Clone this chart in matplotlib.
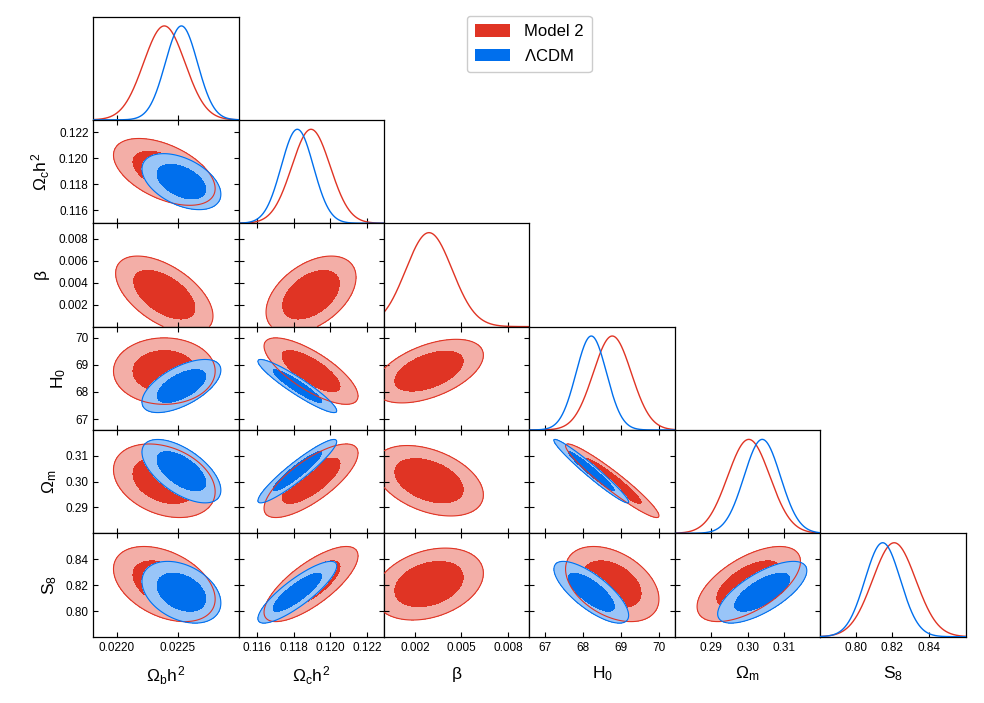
import numpy as np
import matplotlib
matplotlib.use('Agg')
import matplotlib.pyplot as plt
from matplotlib.patches import Patch
from matplotlib.colors import to_rgb

plt.rcParams['font.family'] = ['Liberation Sans', 'DejaVu Sans']
plt.rcParams['mathtext.fontset'] = 'custom'
plt.rcParams['mathtext.rm'] = 'Liberation Sans'
plt.rcParams['mathtext.it'] = 'Liberation Sans'
plt.rcParams['mathtext.bf'] = 'Liberation Sans:bold'

# parameters, labels, plot ranges and ticks
params = ['omegabh2', 'omegach2', 'beta', 'H0', 'omegam', 'S8']
labels = [r'$\Omega_{\rm b}h^2$', r'$\Omega_{\rm c}h^2$', r'$\beta$',
          r'$H_0$', r'$\Omega_{\rm m}$', r'$S_8$']
limits = [(0.02181, 0.02300), (0.11500, 0.12295), (0.0, 0.0094),
          (66.60, 70.41), (0.2800, 0.3199), (0.7805, 0.8600)]
lower_bounds = [None, None, 0.0, None, None, None]
xticks = [[0.0220, 0.0225], [0.116, 0.118, 0.120, 0.122], [0.002, 0.005, 0.008],
          [67, 68, 69, 70], [0.29, 0.30, 0.31], [0.80, 0.82, 0.84]]
xticklabels = [['0.0220', '0.0225'], ['0.116', '0.118', '0.120', '0.122'],
               ['0.002', '0.005', '0.008'], ['67', '68', '69', '70'],
               ['0.29', '0.30', '0.31'], ['0.80', '0.82', '0.84']]
yticks = [[0.0220, 0.0225], [0.116, 0.118, 0.120, 0.122], [0.002, 0.004, 0.006, 0.008],
          [67, 68, 69, 70], [0.29, 0.30, 0.31], [0.80, 0.82, 0.84]]
yticklabels = [['0.0220', '0.0225'], ['0.116', '0.118', '0.120', '0.122'],
               ['0.002', '0.004', '0.006', '0.008'], ['67', '68', '69', '70'],
               ['0.29', '0.30', '0.31'], ['0.80', '0.82', '0.84']]

# Model 2 posterior (gaussian approximation)
m2_params = ['omegabh2', 'omegach2', 'beta', 'H0', 'omegam', 'S8']
m2_mean = [0.02239, 0.11895, 0.0029, 68.77, 0.3003, 0.8210]
m2_std = [0.000170, 0.00105, 0.0015, 0.50, 0.0058, 0.0118]
m2_corr = [[1.00, -0.50, -0.55, 0.00, -0.30, -0.40],
           [-0.50, 1.00, 0.45, -0.75, 0.75, 0.75],
           [-0.55, 0.45, 1.00, 0.50, -0.40, 0.30],
           [0.00, -0.75, 0.50, 1.00, -0.95, -0.40],
           [-0.30, 0.75, -0.40, -0.95, 1.00, 0.60],
           [-0.40, 0.75, 0.30, -0.40, 0.60, 1.00]]

# LCDM posterior
lcdm_params = ['omegabh2', 'omegach2', 'H0', 'omegam', 'S8']
lcdm_mean = [0.02253, 0.11820, 68.22, 0.3040, 0.8147]
lcdm_std = [0.000132, 0.00088, 0.40, 0.0050, 0.0097]
lcdm_corr = [[1.00, -0.45, 0.60, -0.60, -0.35],
             [-0.45, 1.00, -0.93, 0.93, 0.85],
             [0.60, -0.93, 1.00, -0.97, -0.75],
             [-0.60, 0.93, -0.97, 1.00, 0.70],
             [-0.35, 0.85, -0.75, 0.70, 1.00]]

models = [
    ('Model 2', m2_params, m2_mean, m2_std, m2_corr, '#E03424'),
    (r'$\Lambda$CDM', lcdm_params, lcdm_mean, lcdm_std, lcdm_corr, '#006FED'),
]
contour_probs = [0.95, 0.68]


def pale(c, f=0.6):
    return tuple(v * (1 - f) + f for v in to_rgb(c))


def grid_for(k, m, s, n=400):
    lo = m - 5 * s
    if lower_bounds[k] is not None:
        lo = max(lo, lower_bounds[k])
    return np.linspace(lo, m + 5 * s, n)


def hpd_levels(P, probs):
    flat = np.sort(P.ravel())[::-1]
    cdf = np.cumsum(flat)
    cdf /= cdf[-1]
    return [flat[np.searchsorted(cdf, p)] for p in probs]


fig = plt.figure(figsize=(9.84, 7.03), dpi=100)
n = len(params)
gs = fig.add_gridspec(n, n, left=0.0950, right=0.9812, top=0.9765, bottom=0.0943,
                      hspace=0, wspace=0)

for i in range(n):
    for j in range(i + 1):
        ax = fig.add_subplot(gs[i, j])
        for sp in ax.spines.values():
            sp.set_linewidth(0.9)
        if i == j:
            for z, (name, plist, mean, std, corr, col) in enumerate(models):
                if params[i] not in plist:
                    continue
                a = plist.index(params[i])
                x = np.linspace(limits[i][0], limits[i][1], 500)
                if lower_bounds[i] is not None:
                    x = x[x >= lower_bounds[i]]
                p = np.exp(-0.5 * ((x - mean[a]) / std[a]) ** 2)
                ax.plot(x, p / p.max(), color=col, lw=1.0, zorder=2 + z)
            ax.set_ylim(0, 1.1)
            ax.set_yticks([])
            ax.tick_params(axis='x', direction='in', length=3.5, width=0.8,
                           labelsize=8.5, top=False)
        else:
            for z, (name, plist, mean, std, corr, col) in enumerate(models):
                if params[i] not in plist or params[j] not in plist:
                    continue
                a = plist.index(params[j])
                b = plist.index(params[i])
                gx = grid_for(j, mean[a], std[a])
                gy = grid_for(i, mean[b], std[b])
                X, Y = np.meshgrid(gx, gy)
                dx = (X - mean[a]) / std[a]
                dy = (Y - mean[b]) / std[b]
                r = corr[a][b]
                P = np.exp(-0.5 * (dx ** 2 - 2 * r * dx * dy + dy ** 2) / (1 - r ** 2))
                l95, l68 = hpd_levels(P, contour_probs)
                ax.contourf(X, Y, P, levels=[l95, l68, P.max() * 1.01],
                            colors=[pale(col), col], zorder=1 + z)
                ax.contour(X, Y, P, levels=[l95], colors=[col], linewidths=0.8,
                           zorder=3)
            ax.set_ylim(*limits[i])
            ax.set_yticks(yticks[i])
            ax.set_yticklabels(yticklabels[i] if j == 0 else [])
            ax.tick_params(direction='in', length=3.5, width=0.8, labelsize=8.5,
                           top=True, right=True)
            if j == 0:
                ax.set_ylabel(labels[i], fontsize=12.5, labelpad=5)
        ax.set_xlim(*limits[j])
        ax.set_xticks(xticks[j])
        ax.set_xticklabels(xticklabels[j] if i == n - 1 else [])
        if i == n - 1:
            ax.set_xlabel(labels[j], fontsize=12.5, labelpad=8)

handles = [Patch(facecolor=m[5], edgecolor='none', label=m[0]) for m in models]
fig.legend(handles=handles, loc='upper left', bbox_to_anchor=(467 / 984, 1 - 16 / 703),
           borderaxespad=0, fontsize=12, handlelength=2.1, handleheight=0.8,
           handletextpad=0.8, labelspacing=0.5, borderpad=0.5, framealpha=1,
           edgecolor='#cccccc')

fig.savefig('out.png', dpi=100)
